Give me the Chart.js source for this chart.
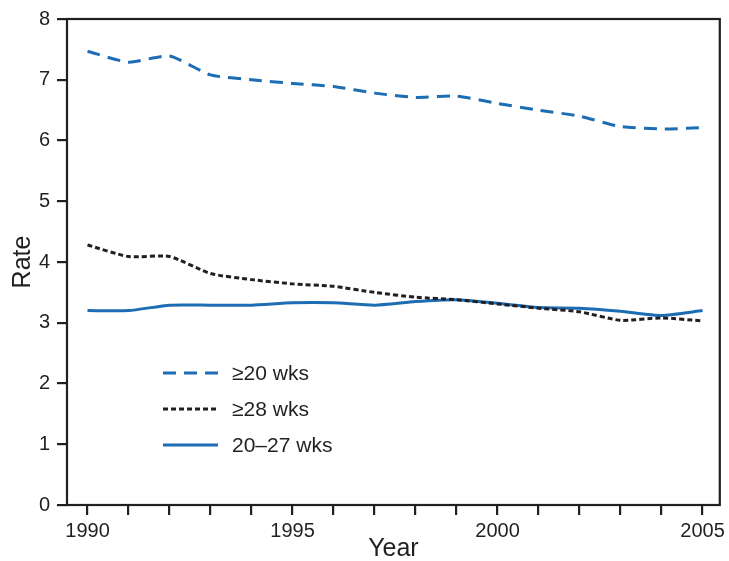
<!DOCTYPE html>
<html>
<head>
<meta charset="utf-8">
<script src="https://cdn.jsdelivr.net/npm/chart.js@4/dist/chart.umd.min.js"></script>
<style>
html,body{margin:0;padding:0;background:#fff;}
#wrap{width:729px;height:561px;position:relative;}
</style>
</head>
<body>
<div id="wrap"><canvas id="c" width="729" height="561"></canvas></div>
<script>
const years = [1990,1991,1992,1993,1994,1995,1996,1997,1998,1999,2000,2001,2002,2003,2004,2005];
const ge20 = [7.47,7.29,7.39,7.08,7.00,6.94,6.89,6.78,6.71,6.73,6.61,6.50,6.40,6.23,6.19,6.21];
const ge28 = [4.28,4.09,4.09,3.81,3.71,3.64,3.60,3.50,3.42,3.38,3.31,3.24,3.18,3.04,3.08,3.03];
const wk2027 = [3.20,3.20,3.29,3.29,3.29,3.33,3.33,3.29,3.35,3.38,3.32,3.25,3.24,3.19,3.12,3.20];
const yTicks = [0,1,2,3,4,5,6,7,8];
const xLabelYears = [1990,1995,2000,2005];
const seriesNames = ['≥20 wks','≥28 wks','20–27 wks'];

const BLUE = '#1c6db4';
const INK = '#231f20';
const FONT = "'Liberation Sans', Arial, Helvetica, sans-serif";

const pts = arr => years.map((y,i)=>({x:y,y:arr[i]}));

const frame = {
  id:'frame',
  afterDatasetsDraw(chart){
    const {ctx, chartArea:a} = chart;
    ctx.save();
    ctx.strokeStyle = INK;
    ctx.lineWidth = 2.2;
    ctx.strokeRect(a.left, a.top, a.right-a.left, a.bottom-a.top);
    ctx.restore();
  }
};

const legendPlugin = {
  id:'customLegend',
  afterDatasetsDraw(chart){
    const {ctx} = chart;
    ctx.save();
    const rows = [373, 409, 445];
    chart.data.datasets.forEach((ds,i)=>{
      const y = rows[i];
      ctx.strokeStyle = ds.borderColor;
      ctx.lineWidth = ds.borderWidth;
      ctx.setLineDash(ds.borderDash || []);
      ctx.beginPath();
      ctx.moveTo(163, y);
      ctx.lineTo(218, y);
      ctx.stroke();
      ctx.setLineDash([]);
      ctx.fillStyle = INK;
      ctx.font = '21px ' + FONT;
      ctx.textBaseline = 'middle';
      ctx.textAlign = 'left';
      ctx.fillText(ds.label, 232, y+1);
    });
    ctx.restore();
  }
};

new Chart(document.getElementById('c'), {
  type:'line',
  data:{
    datasets:[
      {label:seriesNames[0], data:pts(ge20), borderColor:BLUE, borderWidth:3, borderDash:[13,8], pointRadius:0, tension:0.2, fill:false},
      {label:seriesNames[1], data:pts(ge28), borderColor:INK, borderWidth:3, borderDash:[5,3], pointRadius:0, tension:0.2, fill:false},
      {label:seriesNames[2], data:pts(wk2027), borderColor:BLUE, borderWidth:3, pointRadius:0, tension:0.2, fill:false}
    ]
  },
  options:{
    responsive:false,
    animation:false,
    devicePixelRatio:1,
    layout:{padding:{top:18,right:7,left:0,bottom:0}},
    plugins:{legend:{display:false}, tooltip:{enabled:false}},
    scales:{
      x:{
        type:'linear',
        min:1989.5,
        max:2005.42,
        afterBuildTicks(scale){ scale.ticks = years.map(v=>({value:v})); },
        afterFit(scale){ scale.height = 56; },
        grid:{display:true, drawOnChartArea:false, drawTicks:true, tickLength:10, color:INK, lineWidth:2.2},
        border:{display:false},
        ticks:{
          autoSkip:false, maxRotation:0, padding:4,
          color:INK,
          font:{family:FONT, size:20},
          callback:v => xLabelYears.includes(v) ? String(v) : ''
        },
        title:{display:true, text:'Year', color:INK, font:{family:FONT, size:25}, padding:{top:0,bottom:-3}}
      },
      y:{
        min:0, max:8,
        afterBuildTicks(scale){ scale.ticks = yTicks.map(v=>({value:v})); },
        afterFit(scale){ scale.width = 67; },
        grid:{display:true, drawOnChartArea:false, drawTicks:true, tickLength:10, color:INK, lineWidth:2.2},
        border:{display:false},
        ticks:{color:INK, font:{family:FONT, size:20}, padding:7},
        title:{display:true, text:'Rate', color:INK, font:{family:FONT, size:25}, padding:{top:8,bottom:0}}
      }
    }
  },
  plugins:[frame, legendPlugin]
});
</script>
</body>
</html>
